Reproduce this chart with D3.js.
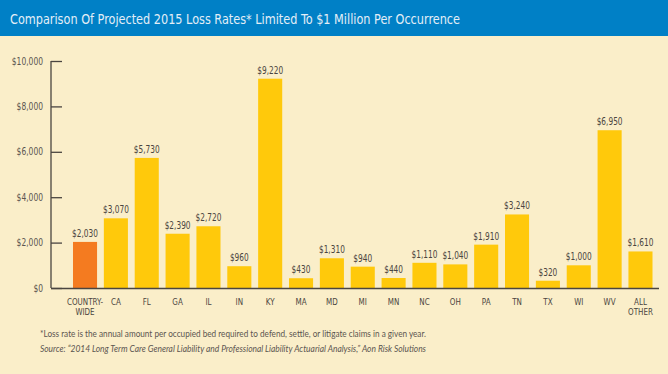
<!DOCTYPE html>
<html>
<head>
<meta charset="utf-8">
<script src="https://cdn.jsdelivr.net/npm/d3@7"></script>
<style>
  body { margin: 0; background: #faeec9; }
  svg { display: block; }
  .small { font-family: 'DejaVu Sans', sans-serif; font-stretch: condensed; }
</style>
</head>
<body>
<script>
// data
var categories = ["COUNTRY-WIDE", "CA", "FL", "GA", "IL", "IN", "KY", "MA", "MD", "MI", "MN",
                  "NC", "OH", "PA", "TN", "TX", "WI", "WV", "ALL OTHER"];
var lossRates = [2030, 3070, 5730, 2390, 2720, 960, 9220, 430, 1310, 940, 440,
                 1110, 1040, 1910, 3240, 320, 1000, 6950, 1610];
var yTicks = [0, 2000, 4000, 6000, 8000, 10000];

var width = 668, height = 374;
var squeeze = 0.84; // narrow the small labels

var svg = d3.select("body").append("svg")
    .attr("width", width)
    .attr("height", height);

svg.append("rect")
    .attr("width", width).attr("height", height)
    .attr("fill", "#faeec9");

// title bar
svg.append("rect")
    .attr("width", width).attr("height", 36)
    .attr("fill", "#0080c6");
svg.append("text")
    .attr("x", 10).attr("y", 24)
    .attr("fill", "#e3eef7")
    .style("font-family", "'DejaVu Sans'")
    .style("font-stretch", "condensed")
    .style("font-size", "14.5px")
    .attr("textLength", 450)
    .attr("lengthAdjust", "spacingAndGlyphs")
    .text("Comparison Of Projected 2015 Loss Rates* Limited To $1 Million Per Occurrence");

// scales
var x = d3.scaleBand()
    .domain(categories)
    .range([69.6, 655.9])
    .paddingInner(0.22)
    .paddingOuter(0.11);

var y = d3.scaleLinear()
    .domain([0, 10000])
    .range([288, 61]);

var fmt = function(v) { return "$" + d3.format(",")(v); };

function place(px, py) {
    return "translate(" + px + "," + py + ") scale(" + squeeze + ",1)";
}

// y axis
var yAxis = d3.axisRight(y)
    .tickValues(yTicks)
    .tickSize(11)
    .tickFormat("");
var gy = svg.append("g")
    .attr("transform", "translate(51,0)")
    .call(yAxis);
gy.select(".domain").remove();
gy.selectAll(".tick line").attr("stroke", "#4a4540").attr("stroke-width", 1.3);

svg.selectAll(".ylab")
    .data(yTicks)
    .enter().append("text")
    .attr("class", "ylab small")
    .attr("transform", function(d) { return place(43, y(d) + 3.5); })
    .attr("text-anchor", "end")
    .attr("fill", "#5a5550")
    .style("font-size", "10px")
    .text(fmt);

// bars
svg.selectAll(".bar")
    .data(lossRates)
    .enter().append("rect")
    .attr("class", "bar")
    .attr("x", function(d, i) { return x(categories[i]); })
    .attr("y", function(d) { return y(d); })
    .attr("width", x.bandwidth())
    .attr("height", function(d) { return y(0) - y(d); })
    .attr("fill", function(d, i) { return i === 0 ? "#f47b20" : "#ffc90b"; });

// value labels
svg.selectAll(".val")
    .data(lossRates)
    .enter().append("text")
    .attr("class", "val small")
    .attr("transform", function(d, i) {
        return place(x(categories[i]) + x.bandwidth() / 2, y(d) - 5);
    })
    .attr("text-anchor", "middle")
    .attr("fill", "#4a4540")
    .style("font-size", "9.8px")
    .text(fmt);

// axis lines
svg.append("line")
    .attr("x1", 51).attr("x2", 51)
    .attr("y1", y(10000)).attr("y2", y(0))
    .attr("stroke", "#4a4540").attr("stroke-width", 1.3);
svg.append("line")
    .attr("x1", 51).attr("x2", 659)
    .attr("y1", y(0) + 0.5).attr("y2", y(0) + 0.5)
    .attr("stroke", "#4a4540").attr("stroke-width", 1.5);

// category labels
var catLab = svg.selectAll(".cat")
    .data(categories)
    .enter().append("text")
    .attr("class", "cat small")
    .attr("transform", function(d) { return place(x(d) + x.bandwidth() / 2, 305); })
    .attr("text-anchor", "middle")
    .attr("fill", "#4a4540")
    .style("font-size", "9.5px");
catLab.each(function(d) {
    var parts = d === "COUNTRY-WIDE" ? ["COUNTRY-", "WIDE"] : d.split(" ");
    var t = d3.select(this);
    parts.forEach(function(p, i) {
        t.append("tspan")
            .attr("x", 0)
            .attr("dy", i === 0 ? 0 : 10)
            .text(p);
    });
});

// notes
svg.append("text")
    .attr("x", 40).attr("y", 337)
    .attr("fill", "#5a5550")
    .style("font-family", "Lato, 'Open Sans', sans-serif")
    .style("font-size", "9.5px")
    .attr("textLength", 386)
    .attr("lengthAdjust", "spacingAndGlyphs")
    .text("*Loss rate is the annual amount per occupied bed required to defend, settle, or litigate claims in a given year.");
svg.append("text")
    .attr("x", 40).attr("y", 352)
    .attr("fill", "#5a5550")
    .style("font-family", "Lato, 'Open Sans', sans-serif")
    .style("font-style", "italic")
    .style("font-size", "9.5px")
    .attr("textLength", 386)
    .attr("lengthAdjust", "spacingAndGlyphs")
    .text("Source: \u201c2014 Long Term Care General Liability and Professional Liability Actuarial Analysis,\u201d Aon Risk Solutions");
</script>
</body>
</html>
